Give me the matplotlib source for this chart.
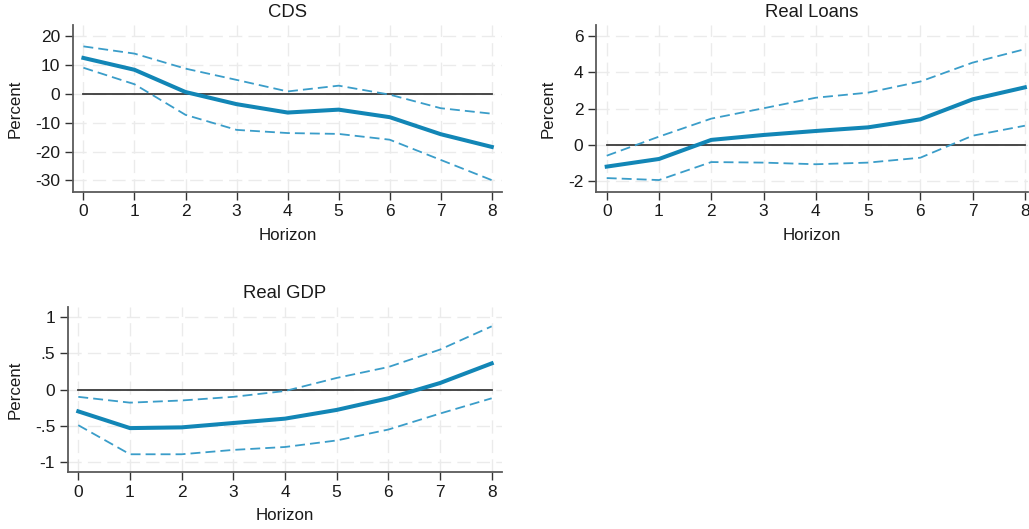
import matplotlib
matplotlib.use("Agg")
import matplotlib.pyplot as plt
import numpy as np

plt.rcParams['font.family'] = ['Liberation Sans', 'DejaVu Sans']

horizon = [0, 1, 2, 3, 4, 5, 6, 7, 8]
xticks = [0, 1, 2, 3, 4, 5, 6, 7, 8]

cds_irf = [12.4, 8.3, 0.6, -3.6, -6.5, -5.5, -8.1, -14.0, -18.4]
cds_hi = [16.4, 13.9, 8.7, 4.8, 0.8, 2.8, -0.3, -5.0, -6.9]
cds_lo = [9.0, 3.3, -7.3, -12.5, -13.6, -13.9, -15.9, -22.9, -29.9]
cds_yticks = [20, 10, 0, -10, -20, -30]
cds_ylabels = ['20', '10', '0', '-10', '-20', '-30']

loans_irf = [-1.19, -0.77, 0.28, 0.55, 0.77, 0.97, 1.41, 2.51, 3.17]
loans_hi = [-0.59, 0.46, 1.45, 2.02, 2.60, 2.88, 3.49, 4.53, 5.27]
loans_lo = [-1.82, -1.93, -0.94, -0.97, -1.06, -0.97, -0.70, 0.51, 1.06]
loans_yticks = [6, 4, 2, 0, -2]
loans_ylabels = ['6', '4', '2', '0', '-2']

gdp_irf = [-0.30, -0.53, -0.52, -0.46, -0.40, -0.28, -0.12, 0.09, 0.36]
gdp_hi = [-0.10, -0.18, -0.15, -0.10, -0.02, 0.16, 0.31, 0.55, 0.87]
gdp_lo = [-0.49, -0.89, -0.89, -0.83, -0.79, -0.70, -0.55, -0.33, -0.12]
gdp_yticks = [1, 0.5, 0, -0.5, -1]
gdp_ylabels = ['1', '.5', '0', '-.5', '-1']

W, H = 1029, 529
fig = plt.figure(figsize=(W / 100, H / 100), dpi=100)

MAIN = '#1286b6'
BAND = '#3a9dc9'
AXC = '#5a5a5a'
TXT = '#1a1a1a'
GRID = '#ebebeb'


def panel(box, title, irf, hi, lo, yticks, ylabels, xlim, ylim,
          title_y, xlabel_y, ylabel_x):
    left, right, top, bottom = box
    wpx, hpx = right - left, bottom - top
    ax = fig.add_axes([left / W, 1 - bottom / H, wpx / W, hpx / H])
    ax.set_xlim(*xlim)
    ax.set_ylim(*ylim)
    for t in xticks:
        ax.axvline(t, color=GRID, lw=1.0, ls=(0, (9.5, 4.5)), zorder=0)
    for t in yticks:
        ax.axhline(t, color=GRID, lw=1.0, ls=(0, (9.5, 4.5)), zorder=0)
    ax.plot([horizon[0], horizon[-1]], [0, 0], color='#3a3a3a', lw=1.3, zorder=2)
    ax.plot(horizon, hi, color=BAND, lw=1.3, ls=(0, (5.5, 2.8)), zorder=3)
    ax.plot(horizon, lo, color=BAND, lw=1.3, ls=(0, (5.5, 2.8)), zorder=3)
    ax.plot(horizon, irf, color=MAIN, lw=2.9, zorder=4)
    ax.set_xticks(xticks)
    ax.set_xticklabels([str(t) for t in xticks])
    ax.set_yticks(yticks)
    ax.set_yticklabels(ylabels)
    for s in ['top', 'right']:
        ax.spines[s].set_visible(False)
    for s in ['left', 'bottom']:
        ax.spines[s].set_color(AXC)
        ax.spines[s].set_linewidth(1.3)
    ax.tick_params(axis='both', direction='out', length=5.5, width=1.0, color='#333333',
                   labelsize=12.5, labelcolor=TXT, pad=3.5)
    ax.text(0.5, (bottom - title_y) / hpx, title, transform=ax.transAxes,
            ha='center', va='center', fontsize=13.3, color=TXT)
    ax.set_xlabel('Horizon', fontsize=12.2, color=TXT)
    ax.set_ylabel('Percent', fontsize=12.2, color=TXT)
    ax.xaxis.set_label_coords(0.5, (bottom - xlabel_y) / hpx)
    ax.xaxis.label.set_verticalalignment('center')
    ax.yaxis.set_label_coords((ylabel_x - left) / wpx, 0.5)
    ax.yaxis.label.set_verticalalignment('center')
    ax.set_facecolor('white')
    return ax


panel((72.7, 502, 25, 191.7), 'CDS', cds_irf, cds_hi, cds_lo, cds_yticks, cds_ylabels,
      (-0.21, 8.2), (-33.9, 23.8), 12.3, 235, 15)

panel((596, 1028, 25, 191.7), 'Real Loans', loans_irf, loans_hi, loans_lo,
      loans_yticks, loans_ylabels, (-0.205, 8.06), (-2.57, 6.6), 12.3, 235, 548.3)

panel((67.7, 502, 306.7, 472.3), 'Real GDP', gdp_irf, gdp_hi, gdp_lo,
      gdp_yticks, gdp_ylabels, (-0.205, 8.2), (-1.138, 1.14), 293.3, 515, 15)

fig.savefig('out.png', dpi=100, facecolor='white')
